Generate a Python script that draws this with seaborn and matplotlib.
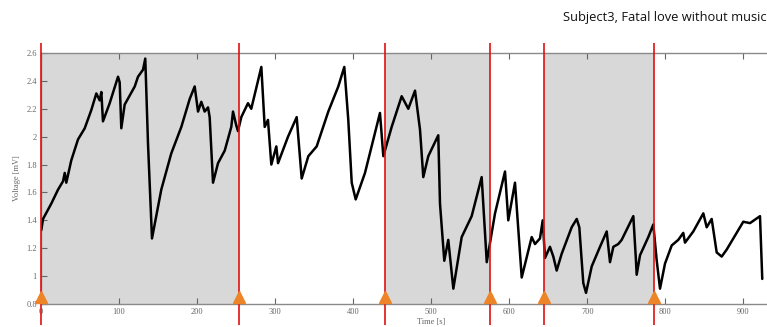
import matplotlib
matplotlib.use("Agg")
import matplotlib.pyplot as plt
import seaborn as sns
import pandas as pd

# Recorded voltage trace
time_s = [0.4, 2.6, 13.2, 21.8, 28.2, 30.4, 32.4, 38.8, 47.4, 56.0, 64.4, 70.9, 75.2,
          77.3, 79.4, 88.0, 98.7, 100.8, 102.9, 107.2, 120.1, 124.3, 130.7, 133.6,
          137.1, 142.2, 154.1, 166.9, 179.8, 190.5, 196.9, 201.2, 205.4, 209.7, 214.0,
          216.1, 220.4, 226.8, 235.4, 243.8, 246.0, 250.2, 252.4, 256.6, 265.2, 269.4,
          282.3, 286.6, 290.8, 295.1, 301.5, 303.7, 316.5, 327.6, 334.0, 342.5, 353.2,
          368.1, 380.9, 388.6, 393.7, 398.1, 403.2, 415.1, 434.3, 438.6, 449.3, 462.1,
          470.6, 479.2, 485.6, 489.8, 496.2, 509.0, 511.2, 516.7, 521.8, 528.3, 539.0,
          551.8, 564.6, 571.1, 581.7, 594.5, 598.7, 607.3, 615.9, 628.7, 632.9, 639.3,
          642.8, 645.7, 652.1, 656.4, 660.7, 667.1, 679.9, 686.4, 689.7, 694.8, 698.3,
          705.6, 716.2, 724.8, 729.0, 733.3, 739.6, 744.0, 758.9, 762.3, 763.2, 767.5,
          778.1, 784.5, 788.9, 793.1, 799.5, 808.1, 816.5, 822.9, 825.1, 835.7, 848.6,
          852.9, 859.3, 865.7, 872.1, 878.5, 889.2, 899.8, 908.4, 921.2, 924.1]
voltage_mv = [1.33, 1.41, 1.52, 1.62, 1.68, 1.74, 1.67, 1.83, 1.98, 2.06, 2.19, 2.31, 2.26,
              2.32, 2.11, 2.24, 2.43, 2.39, 2.06, 2.23, 2.36, 2.43, 2.48, 2.56,
              1.95, 1.27, 1.62, 1.88, 2.07, 2.27, 2.36, 2.18, 2.25, 2.18, 2.21,
              2.14, 1.67, 1.81, 1.90, 2.07, 2.18, 2.08, 2.04, 2.14, 2.24, 2.20,
              2.50, 2.07, 2.12, 1.80, 1.93, 1.81, 2.00, 2.14, 1.70, 1.86, 1.93,
              2.18, 2.36, 2.50, 2.12, 1.67, 1.55, 1.74, 2.17, 1.86, 2.07, 2.29,
              2.20, 2.33, 2.05, 1.71, 1.86, 2.01, 1.52, 1.11, 1.26, 0.91, 1.28,
              1.43, 1.71, 1.10, 1.45, 1.75, 1.40, 1.67, 0.99, 1.28, 1.23, 1.27,
              1.40, 1.13, 1.21, 1.14, 1.04, 1.16, 1.35, 1.41, 1.35, 0.95, 0.88,
              1.07, 1.21, 1.32, 1.10, 1.21, 1.23, 1.26, 1.43, 1.11, 1.01, 1.15,
              1.28, 1.37, 1.11, 0.91, 1.09, 1.22, 1.26, 1.31, 1.24, 1.32, 1.45,
              1.35, 1.41, 1.17, 1.14, 1.19, 1.29, 1.39, 1.38, 1.43, 0.98]

# Segment boundaries (s); even-numbered segments are shaded
boundaries_s = [0, 254, 441, 575, 644, 786]
segment_end_s = [254, 441, 575, 644, 786, 1000]

x_ticks = [0, 100, 200, 300, 400, 500, 600, 700, 800, 900]
y_ticks = [0.8, 1.0, 1.2, 1.4, 1.6, 1.8, 2.0, 2.2, 2.4, 2.6]
y_tick_labels = ["0.8", "1", "1.2", "1.4", "1.6", "1.8", "2", "2.2", "2.4", "2.6"]

title = "Subject3, Fatal love without music"

sns.set_style("white")
plt.rcParams["font.family"] = ["Liberation Serif", "DejaVu Serif"]

W, H = 767, 327
fig = plt.figure(figsize=(W / 100, H / 100), dpi=100)
ax = fig.add_axes([41 / W, 23 / H, 780.5 / W, 251 / H])

for i, (a, b) in enumerate(zip(boundaries_s, segment_end_s)):
    if i % 2 == 0:
        ax.axvspan(a, b, color="#d8d8d8", lw=0, zorder=0)

df = pd.DataFrame({"Time [s]": time_s, "Voltage [mV]": voltage_mv})
sns.lineplot(data=df, x="Time [s]", y="Voltage [mV]", ax=ax, color="black",
             linewidth=1.8, zorder=3)

ax.set_xlim(0, 1000)
ax.set_ylim(0.8, 2.6)
ax.set_xticks(x_ticks)
ax.set_xticklabels([str(t) for t in x_ticks])
ax.set_yticks(y_ticks)
ax.set_yticklabels(y_tick_labels)
ax.tick_params(direction="in", length=4, width=0.8, color="#666666",
               labelsize=6, labelcolor="#666666", top=True, bottom=True,
               left=True, right=False, pad=3)
ax.set_xlabel("Time [s]", fontsize=6, color="#666666", labelpad=1)
ax.set_ylabel("Voltage [mV]", fontsize=6, color="#666666", labelpad=4)
for s in ["top", "bottom", "left"]:
    ax.spines[s].set_color("#8a8a8a")
    ax.spines[s].set_linewidth(1.0)
ax.spines["right"].set_visible(False)

# Event markers
ax.vlines(boundaries_s, 0.65, 2.675, colors="#e01010", linewidth=1.2,
          clip_on=False, zorder=5)
ax.plot(boundaries_s, [0.85] * len(boundaries_s), linestyle="none", marker="^",
        markersize=9, color="#ee8428", clip_on=False, zorder=6)

fig.text(0.999, 1 - 17 / H, title, ha="right", va="center", fontsize=9.3,
         family=["Open Sans", "DejaVu Sans"], color="#111111")

fig.savefig("out.png", dpi=100)
